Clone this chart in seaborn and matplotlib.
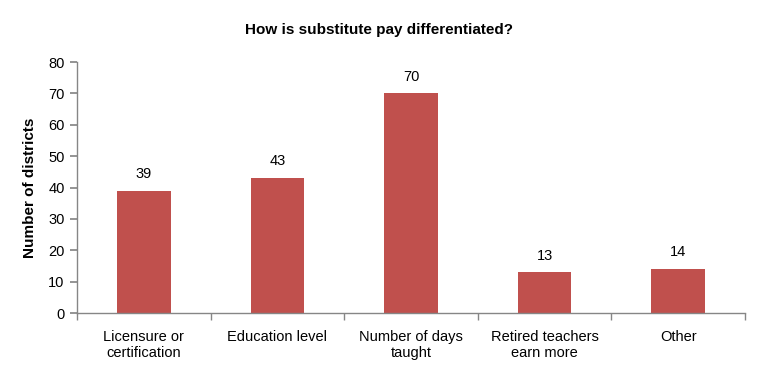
import matplotlib
matplotlib.use("Agg")
import matplotlib.pyplot as plt
import seaborn as sns
import pandas as pd
import numpy as np

categories = ["Licensure or\ncertification", "Education level", "Number of days\ntaught", "Retired teachers\nearn more", "Other"]
values = [39, 43, 70, 13, 14]
title = "How is substitute pay differentiated?"
ylabel = "Number of districts"

sns.set_theme(style="white")
plt.rcParams['font.family'] = ['Liberation Sans', 'DejaVu Sans']
plt.rcParams['text.color'] = 'black'
plt.rcParams['axes.labelcolor'] = 'black'
plt.rcParams['xtick.color'] = 'black'
plt.rcParams['ytick.color'] = 'black'

df = pd.DataFrame({"category": categories, "value": values})

fig = plt.figure(figsize=(7.67, 3.82), dpi=100)
ax = fig.add_axes([0.1004, 0.1806, 0.8709, 0.657])
sns.barplot(data=df, x="category", y="value", color="#C0504D", width=0.4,
            saturation=1, linewidth=0, ax=ax)

ax.set_ylim(0, 80)
ax.set_xlim(-0.5, len(categories) - 0.5)
ax.set_yticks(np.arange(0, 81, 10))
ax.set_xlabel("")
ax.set_ylabel(ylabel, fontsize=11, fontweight="bold", labelpad=8)
fig.text(379 / 767, 1 - 30 / 382, title, fontsize=11, fontweight="bold", ha="center", va="center")

for i, v in enumerate(values):
    ax.annotate(str(v), (i, v), xytext=(0, 7), textcoords="offset points", ha="center", va="bottom", fontsize=10.5)

for s in ["top", "right"]:
    ax.spines[s].set_visible(False)
for s in ["left", "bottom"]:
    ax.spines[s].set_color("#868686")
    ax.spines[s].set_linewidth(1.0)

ax.tick_params(axis="y", which="major", length=5, color="#868686", labelcolor="black", direction="out", left=True, labelsize=10.5, pad=4)
ax.tick_params(axis="x", which="major", length=0, labelcolor="black", labelsize=10.5, pad=12)
ax.set_xticks(np.arange(-0.5, len(categories), 1), minor=True)
ax.tick_params(axis="x", which="minor", length=5, color="#868686", direction="out", bottom=True)

fig.savefig("out.png", dpi=100)
